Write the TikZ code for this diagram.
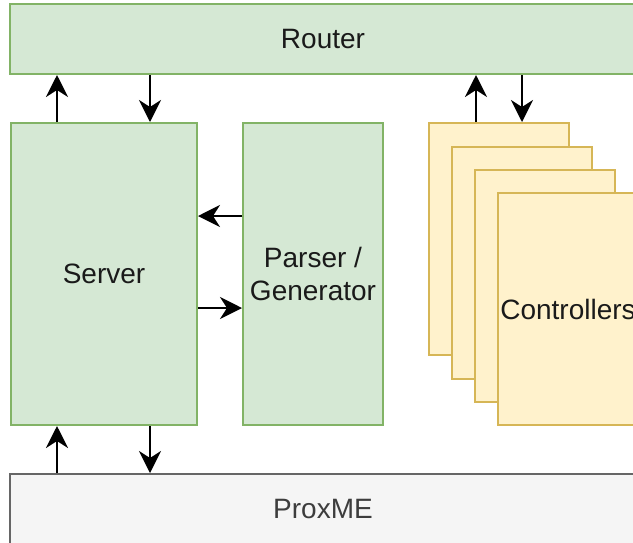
\documentclass[tikz,border=0pt]{standalone}
\usepackage{fontspec}
\setmainfont{Liberation Sans}
\usetikzlibrary{arrows.meta}
\definecolor{greenfill}{HTML}{D5E8D4}
\definecolor{greenline}{HTML}{82B366}
\definecolor{ctrlfill}{HTML}{FFF2CC}
\definecolor{ctrlline}{HTML}{D6B656}
\definecolor{proxfill}{HTML}{F5F5F5}
\definecolor{proxline}{HTML}{666666}
\definecolor{textdark}{HTML}{1A1A1A}
\begin{document}
\begin{tikzpicture}[x=1pt,y=-1pt,
    block/.style={draw, rectangle, line width=2pt, inner sep=0pt, text=textdark,
      font=\fontsize{28}{33}\selectfont, align=center},
    greenbox/.style={block, fill=greenfill, draw=greenline},
    ctrlbox/.style={block, fill=ctrlfill, draw=ctrlline, minimum width=140pt, minimum height=232pt},
    arr/.style={-{Stealth[length=22pt,width=22pt,inset=7pt]}, line width=2.2pt}]
  \useasboundingbox (0,0) rectangle (633,542);
  \clip (0,0) rectangle (633,542);
  \node [greenbox, minimum width=626pt, minimum height=70pt] (router) at (323,39) {Router};
  \node [greenbox, minimum width=186pt, minimum height=302pt] (server) at (104,274) {Server};
  \node [greenbox, minimum width=140pt, minimum height=302pt] (parser) at (313,274) {Parser /\\Generator};
  \node [ctrlbox] (ctrlA) at (499,239) {};
  \node [ctrlbox] (ctrlB) at (522,263) {};
  \node [ctrlbox] (ctrlC) at (545,286) {};
  \node [ctrlbox] (ctrlD) at (568,309) {Controllers};
  \node [block, fill=proxfill, draw=proxline, text=proxline!60!black, minimum width=626pt, minimum height=70pt] (proxme) at (323,509) {ProxME};
  % points where the vertical arrows leave the boxes
  \coordinate (srvup) at ([xshift=-47pt]server.north);
  \coordinate (srvdown) at ([xshift=46pt]server.north);
  \coordinate (ctrlup) at ([xshift=-23pt]ctrlA.north);
  \coordinate (ctrldown) at ([xshift=23pt]ctrlA.north);
  \draw [arr] (srvup) -- (srvup |- router.south);
  \draw [arr] (srvdown |- router.south) -- (srvdown);
  \draw [arr] (ctrlup) -- (ctrlup |- router.south);
  \draw [arr] (ctrldown |- router.south) -- (ctrldown);
  \draw [arr] ([yshift=58pt]parser.west) -- ([yshift=58pt]server.east);
  \draw [arr] ([yshift=-34pt]server.east) -- ([yshift=-34pt]parser.west);
  \draw [arr] (srvup |- proxme.north) -- (srvup |- server.south);
  \draw [arr] (srvdown |- server.south) -- (srvdown |- proxme.north);
\end{tikzpicture}
\end{document}
